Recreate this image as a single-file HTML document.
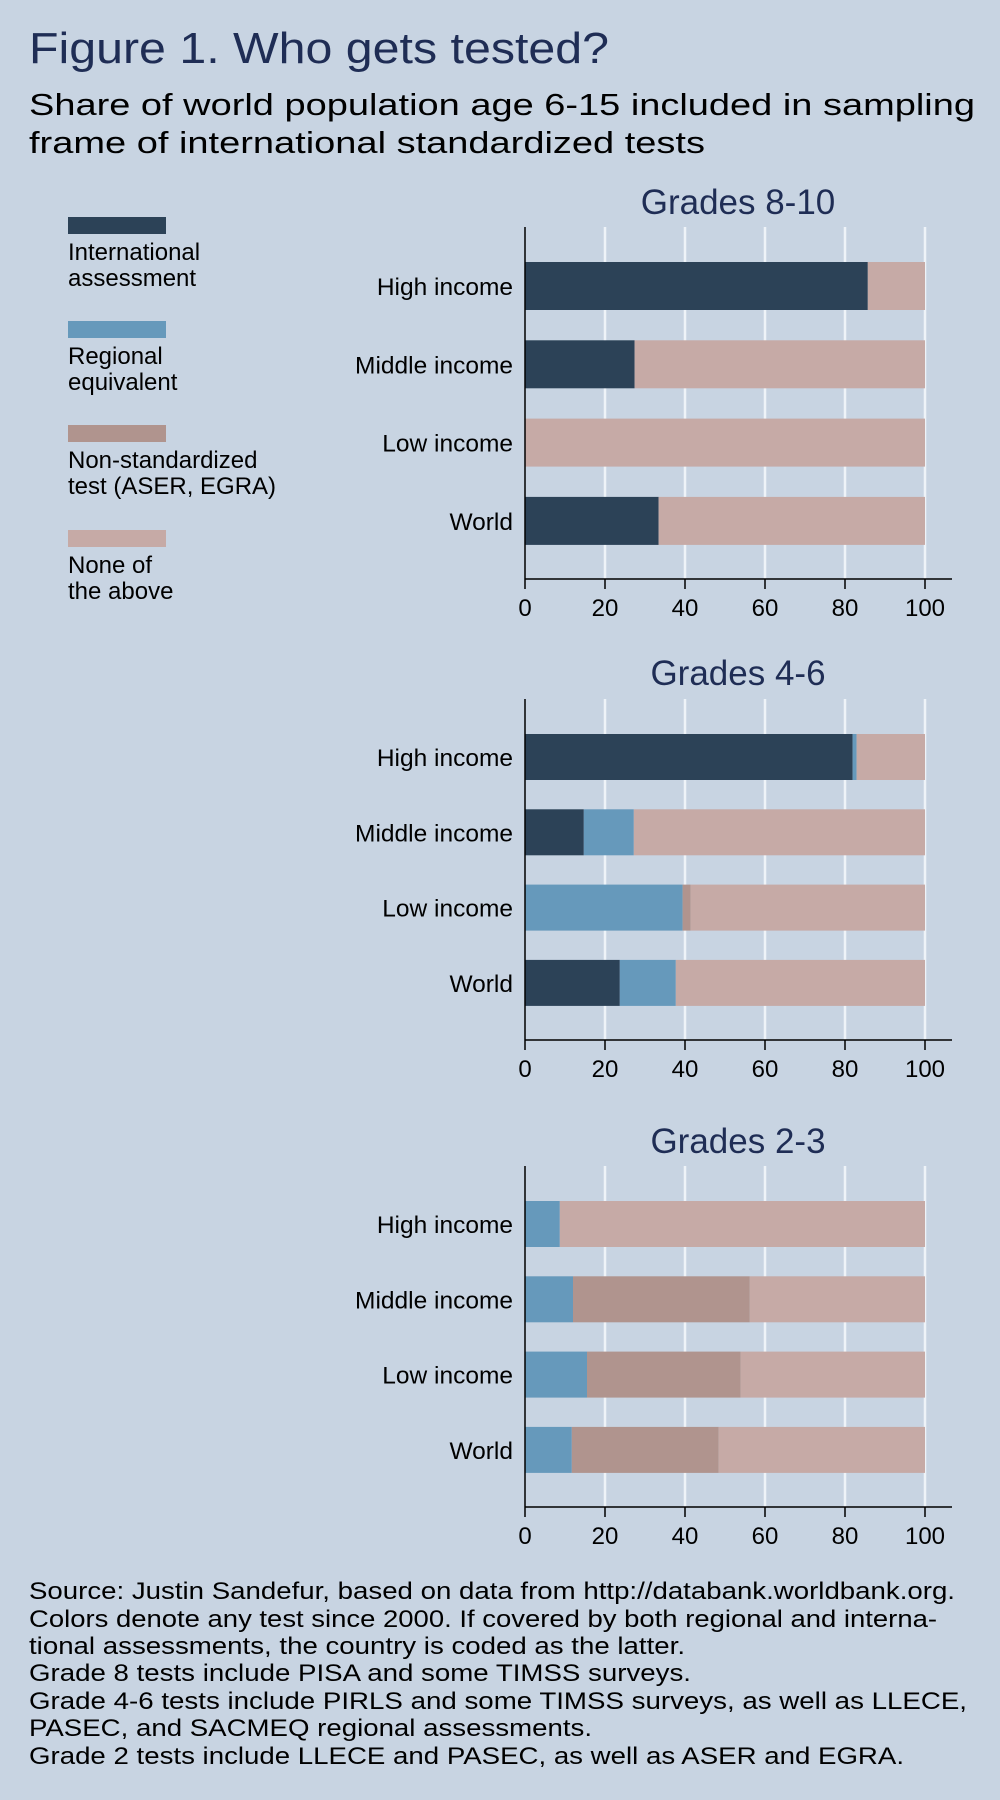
<!DOCTYPE html>
<html><head><meta charset="utf-8"><style>
html,body{margin:0;padding:0;background:#c8d4e2;}
svg{display:block;font-family:"Liberation Sans",Arial,sans-serif;}
</style></head><body>
<svg id="fig" width="1000" height="1800" viewBox="0 0 1000 1800">
<rect x="0" y="0" width="1000" height="1800" fill="#c8d4e2"/>
<text x="29" y="63" font-size="44" fill="#1f2d55" textLength="580" lengthAdjust="spacingAndGlyphs">Figure 1. Who gets tested?</text>
<text x="29" y="115" font-size="31" fill="#000" textLength="946" lengthAdjust="spacingAndGlyphs">Share of world population age 6-15 included in sampling</text>
<text x="29" y="153" font-size="31" fill="#000" textLength="676" lengthAdjust="spacingAndGlyphs">frame of international standardized tests</text>

<g font-size="24">
<g>
<rect x="68" y="217" width="98" height="17" fill="#2c4257"/>
<text x="68" y="260">International</text>
<text x="68" y="286">assessment</text>
</g>
<g>
<rect x="68" y="321" width="98" height="17" fill="#6699bb"/>
<text x="68" y="364">Regional</text>
<text x="68" y="390">equivalent</text>
</g>
<g>
<rect x="68" y="425" width="98" height="17" fill="#b0948e"/>
<text x="68" y="468">Non-standardized</text>
<text x="68" y="494">test (ASER, EGRA)</text>
</g>
<g>
<rect x="68" y="530" width="98" height="17" fill="#c6aaa6"/>
<text x="68" y="573">None of</text>
<text x="68" y="599">the above</text>
</g>
</g>

<g id="charts"></g>

<g font-size="24" fill="#000">
<text x="29" y="1599" textLength="926" lengthAdjust="spacingAndGlyphs">Source: Justin Sandefur, based on data from http://databank.worldbank.org.</text>
<text x="29" y="1627" textLength="908" lengthAdjust="spacingAndGlyphs">Colors denote any test since 2000. If covered by both regional and interna-</text>
<text x="29" y="1654" textLength="656" lengthAdjust="spacingAndGlyphs">tional assessments, the country is coded as the latter.</text>
<text x="29" y="1681" textLength="662" lengthAdjust="spacingAndGlyphs">Grade 8 tests include PISA and some TIMSS surveys.</text>
<text x="29" y="1709" textLength="938" lengthAdjust="spacingAndGlyphs">Grade 4-6 tests include PIRLS and some TIMSS surveys, as well as LLECE,</text>
<text x="29" y="1736" textLength="563" lengthAdjust="spacingAndGlyphs">PASEC, and SACMEQ regional assessments.</text>
<text x="29" y="1764" textLength="875" lengthAdjust="spacingAndGlyphs">Grade 2 tests include LLECE and PASEC, as well as ASER and EGRA.</text>
</g>
</svg>
<script>
const categories = ["High income","Middle income","Low income","World"];
const seriesNames = ["International assessment","Regional equivalent","Non-standardized test","None of the above"];
const panelTitles = ["Grades 8-10","Grades 4-6","Grades 2-3"];
const xTicks = [0,20,40,60,80,100];
// values per panel, per category (international, regional, non-standardized); remainder = none
const intlG810 = [85.7,27.4,0,33.4];
const regG810 = [0,0,0,0];
const nonG810 = [0,0,0,0];
const intlG46 = [81.9,14.7,0,23.7];
const regG46 = [1.0,12.5,39.4,14.0];
const nonG46 = [0,0,2.0,0];
const intlG23 = [0,0,0,0];
const regG23 = [8.7,12.0,15.5,11.7];
const nonG23 = [0,44.2,38.4,36.7];

const NS = "http://www.w3.org/2000/svg";
const colors = ["#2c4257","#6699bb","#b0948e","#c6aaa6"];
const panels = [
  {title:panelTitles[0], intl:intlG810, reg:regG810, non:nonG810, top:227, bottom:579, titleY:214, first:262, step:78.3, bh:48},
  {title:panelTitles[1], intl:intlG46, reg:regG46, non:nonG46, top:699, bottom:1040, titleY:685, first:734, step:75.3, bh:46},
  {title:panelTitles[2], intl:intlG23, reg:regG23, non:nonG23, top:1166, bottom:1507, titleY:1153, first:1201, step:75.3, bh:46}
];
const x0 = 525, x1 = 925;
function xs(v){ return x0 + (x1 - x0) * v / 100; }
function mk(tag, attrs, parent){
  const e = document.createElementNS(NS, tag);
  for (const k in attrs) e.setAttribute(k, attrs[k]);
  parent.appendChild(e);
  return e;
}
const root = document.getElementById("charts");
panels.forEach((p, pi) => {
  const g = mk("g", {}, root);
  
  
  const t = mk("text", {x:738, y:p.titleY, "font-size":35, fill:"#1f2d55", "text-anchor":"middle"}, g);
  t.textContent = p.title;
  
  
  xTicks.forEach(v => {
    if (v === 0) return;
    const gl = mk("line", {x1:xs(v), x2:xs(v), y1:p.top, y2:p.bottom, stroke:"#eef3f8", "stroke-width":2.5}, g);
    
    
  });
  categories.forEach((c, ci) => {
    const y = p.first + ci * p.step;
    const vals = [p.intl[ci], p.reg[ci], p.non[ci]];
    vals.push(100 - vals[0] - vals[1] - vals[2]);
    let acc = 0;
    vals.forEach((v, si) => {
      if (v <= 0) return;
      const r = mk("rect", {x:xs(acc), y:y, width:xs(acc+v)-xs(acc), height:p.bh, fill:colors[si]}, g);
      
      
      acc += v;
    });
    const lab = mk("text", {x:513, y:y + p.bh/2 + 9, "font-size":24.5, "text-anchor":"end"}, g);
    lab.textContent = c;
    
    
  });
  const ya = mk("line", {x1:x0, x2:x0, y1:p.top, y2:p.bottom, stroke:"#000", "stroke-width":1.5}, g);
  
  
  const xa = mk("line", {x1:x0, x2:952, y1:p.bottom, y2:p.bottom, stroke:"#000", "stroke-width":1.5}, g);
  
  
  xTicks.forEach(v => {
    const tk = mk("line", {x1:xs(v), x2:xs(v), y1:p.bottom, y2:p.bottom + 10, stroke:"#000", "stroke-width":1.5}, g);
    
    
    const tl = mk("text", {x:xs(v), y:p.bottom + 37, "font-size":24, "text-anchor":"middle"}, g);
    tl.textContent = v;
    
    
  });
});
</script>
</body></html>
